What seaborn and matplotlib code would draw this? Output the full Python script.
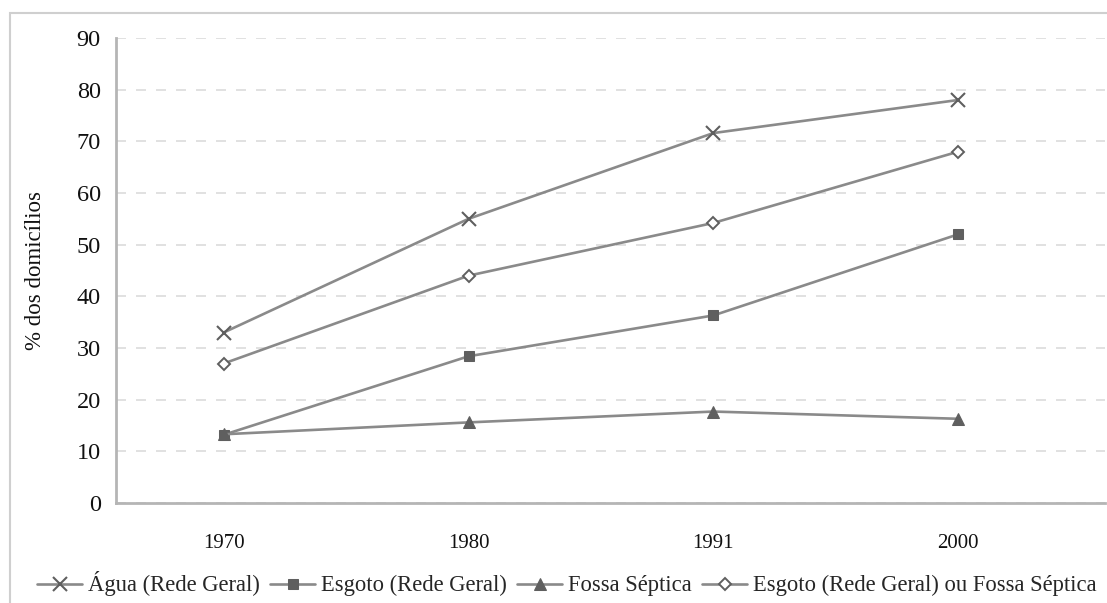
import matplotlib
matplotlib.use("Agg")
import matplotlib.pyplot as plt
import seaborn as sns
from matplotlib.patches import Rectangle

years = ["1970", "1980", "1991", "2000"]
agua_rede = [33.0, 55.0, 71.6, 78.0]
esgoto_rede = [13.2, 28.4, 36.3, 52.0]
fossa_septica = [13.3, 15.6, 17.7, 16.3]
esgoto_ou_fossa = [27.0, 44.0, 54.2, 68.0]
series_names = ["Água (Rede Geral)", "Esgoto (Rede Geral)", "Fossa Séptica",
                "Esgoto (Rede Geral) ou Fossa Séptica"]
yticks = [0, 10, 20, 30, 40, 50, 60, 70, 80, 90]

sns.set_style("white")
plt.rcParams['font.family'] = ['Liberation Serif', 'DejaVu Serif']

fig = plt.figure(figsize=(11.07, 6.03), dpi=100)
ax = fig.add_axes([116/1107, 1-503/603, (1105-116)/1107, (503-38)/603])

line_c = "#8a8a8a"
mk_c = "#5f5f5f"
styles = [
    dict(marker="x", markersize=10, markeredgewidth=1.5, color=line_c, mec=mk_c),
    dict(marker="s", markersize=7.5, color=line_c, mec=mk_c, mfc=mk_c),
    dict(marker="^", markersize=8.5, color=line_c, mec=mk_c, mfc=mk_c),
    dict(marker="D", markersize=6.5, color=line_c, mec=mk_c, mfc="white", markeredgewidth=1.4),
]
all_series = [agua_rede, esgoto_rede, fossa_septica, esgoto_ou_fossa]
for vals, name, st in zip(all_series, series_names, styles):
    sns.lineplot(x=years, y=vals, ax=ax, label=name, linewidth=1.9, sort=False, **st)

ax.set_ylim(0, 90)
ax.set_xlim(-0.44, 3.6)
ax.set_yticks(yticks)
ax.set_yticklabels([str(v) for v in yticks], fontsize=17.5, color="#111111")
ax.set_xticks(range(len(years)))
ax.set_xticklabels(years, fontsize=15, color="#111111")
ax.set_xticks([0.5, 1.5, 2.5], minor=True)
ax.tick_params(axis="x", which="major", length=0, pad=22)
ax.tick_params(axis="x", which="minor", length=5, width=1.2, color="#b5b5b5", direction="out")
ax.tick_params(axis="y", which="major", length=7, width=1.2, color="#b5b5b5", direction="out", pad=4)

ax.yaxis.grid(True, linestyle=(0, (6, 6)), color="#dcdcdc", linewidth=1.2)
ax.xaxis.grid(False)
for s in ["top", "right"]:
    ax.spines[s].set_visible(False)
for s in ["left", "bottom"]:
    ax.spines[s].set_color("#b5b5b5")
    ax.spines[s].set_linewidth(2.0)

ax.set_ylabel("% dos domicílios", fontsize=16.5, color="#111111", labelpad=22)
ax.set_xlabel("")

handles, labels = ax.get_legend_handles_labels()
ax.legend(handles, labels, loc="center", bbox_to_anchor=(0.512, 1-584/603),
          bbox_transform=fig.transFigure, ncol=4, frameon=False, fontsize=16.3,
          handlelength=2.0, handletextpad=0.25, columnspacing=0.45, borderaxespad=0)

fig.patches.append(Rectangle((10/1107, -0.1), 1.2, 0.1 + 1 - 13/603, transform=fig.transFigure,
                             fill=False, edgecolor="#cfcfcf", linewidth=1.5, zorder=0))

fig.savefig("out.png", dpi=100)
